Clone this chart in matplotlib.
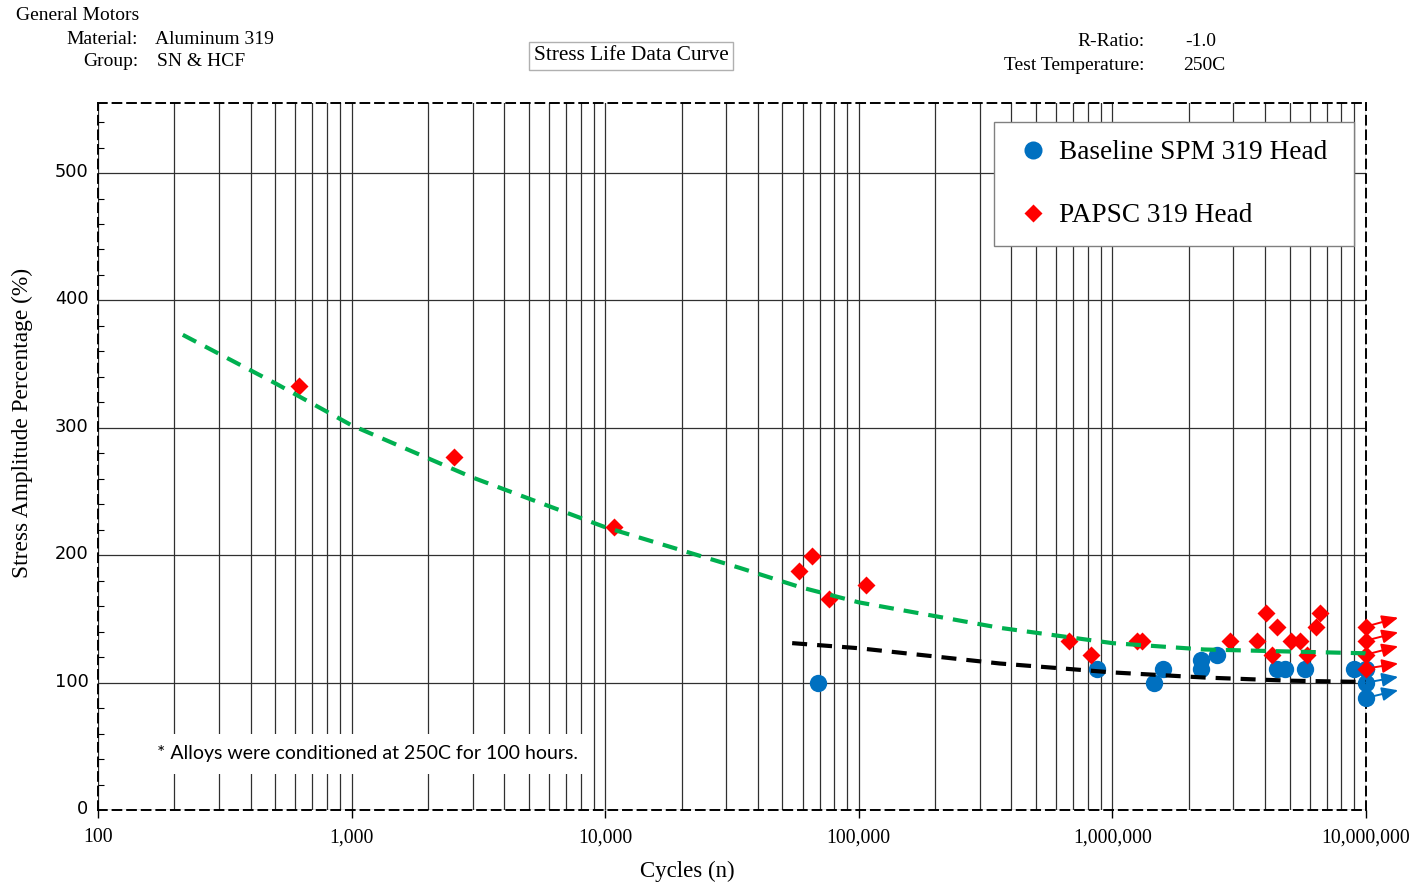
import matplotlib
matplotlib.use('Agg')
import matplotlib.pyplot as plt
import matplotlib.transforms as mtransforms
from matplotlib.ticker import FixedLocator, MultipleLocator, FuncFormatter, NullFormatter, LogLocator
from matplotlib.lines import Line2D

# ---------------- data ----------------
baseline_cycles = [69000, 869000, 1460000, 1580000, 2230000, 2230000, 2580000,
                   4460000, 4790000, 5740000, 9000000, 1e7, 1e7, 1e7]
baseline_stress = [100, 111, 100, 111, 111, 118, 122, 111, 111, 111, 111, 111, 100, 88]

papsc_cycles = [621, 2535, 10840, 58100, 65300, 76200, 106700, 674000, 825000,
                1250000, 1310000, 2910000, 3720000, 4030000, 4460000, 4260000,
                5060000, 5490000, 5850000, 6350000, 6590000, 1e7, 1e7, 1e7, 1e7]
papsc_stress = [333, 277, 222, 188, 199, 166, 177, 133, 122, 133, 133, 133, 133,
                155, 144, 122, 133, 133, 122, 144, 155, 144, 133, 122, 111]

# run-out arrows (start -> tip)
runout_start_n = 1e7
runout_tip_n = 1.34e7
papsc_runout_from = [144, 133, 122, 111]
papsc_runout_to = [151, 139.5, 128.5, 115]
baseline_runout_from = [100, 88]
baseline_runout_to = [104.5, 94]

# fitted curves
papsc_fit_n = [216, 500, 1000, 3000, 10000, 34000, 58600, 1e5, 3.6e5, 1e6, 2.3e6, 1e7]
papsc_fit_s = [373, 335, 302, 261, 222, 190, 175, 163, 143, 131, 126, 123]
base_fit_n = [54600, 1e5, 3.6e5, 1e6, 2.3e6, 5e6, 1e7]
base_fit_s = [131, 127, 115, 108, 104, 101.5, 100.5]

x_ticks = [100, 1000, 10000, 100000, 1000000, 10000000]
y_ticks = [0, 100, 200, 300, 400, 500]

BLUE = '#0070C0'
RED = '#FF0000'
GREEN = '#00B050'

SERIF = 'Liberation Serif'

fig = plt.figure(figsize=(14.11, 8.83), dpi=100)
ax = fig.add_axes([98/1411, 1-810/883, (1366-98)/1411, (810-103)/883])

ax.set_xscale('log')
ax.set_xlim(100, 1e7)
ax.set_ylim(0, 555)

# grid
ax.xaxis.set_major_locator(FixedLocator(x_ticks))
ax.xaxis.set_minor_locator(LogLocator(base=10, subs=range(2, 10), numticks=50))
ax.xaxis.set_minor_formatter(NullFormatter())
ax.xaxis.set_major_formatter(FuncFormatter(lambda v, p: f'{int(round(v)):,}'))
ax.yaxis.set_major_locator(FixedLocator(y_ticks))
ax.yaxis.set_minor_locator(MultipleLocator(20))
ax.grid(True, which='both', axis='x', color='#303030', lw=0.9)
ax.grid(True, which='major', axis='y', color='#303030', lw=0.9)
ax.set_axisbelow(True)

ax.tick_params(axis='x', which='major', direction='out', length=6, width=1, pad=7,
               labelsize=14.2, color='black')
ax.tick_params(axis='x', which='minor', length=0)
ax.tick_params(axis='y', which='major', length=0, pad=6.8, labelsize=12.8)
ax.tick_params(axis='y', which='minor', direction='in', length=4, width=0.8)
for lab in ax.get_xticklabels():
    lab.set_fontfamily(SERIF)
up = mtransforms.ScaledTranslation(0, 3/100, fig.dpi_scale_trans)
for lab in ax.get_yticklabels():
    lab.set_fontfamily('DejaVu Sans')
    lab.set_transform(lab.get_transform() + up)

for sp in ax.spines.values():
    sp.set_linestyle((0, (4.5, 3)))
    sp.set_linewidth(1.4)
    sp.set_color('black')

# scatter
ax.plot(baseline_cycles, baseline_stress, 'o', color=BLUE, ms=12.5, mec='none',
        zorder=3, clip_on=False)
ax.plot(papsc_cycles, papsc_stress, 'D', color=RED, ms=9, mec='none',
        zorder=3.1, clip_on=False)

# curves
ax.plot(papsc_fit_n, papsc_fit_s, color=GREEN, lw=3, dashes=(3.6, 2.4), zorder=4)
ax.plot(base_fit_n, base_fit_s, color='black', lw=3, dashes=(3.6, 2.4), zorder=4)

# run-out arrows
for y0, y1, col in ([(a, b, RED) for a, b in zip(papsc_runout_from, papsc_runout_to)] +
                    [(a, b, BLUE) for a, b in zip(baseline_runout_from, baseline_runout_to)]):
    ax.annotate('', xy=(runout_tip_n, y1), xytext=(runout_start_n, y0),
                arrowprops=dict(arrowstyle='-|>,head_length=0.75,head_width=0.32',
                                color=col, lw=1.4, shrinkA=0, shrinkB=0,
                                mutation_scale=13),
                annotation_clip=False, zorder=5)

# axis labels
ax.set_xlabel('Cycles (n)', fontfamily=SERIF, fontsize=16.5)
ax.xaxis.set_label_coords((687-98)/1268, -(861-810)/707)
ax.set_ylabel('Stress Amplitude Percentage (%)', fontfamily=SERIF, fontsize=16.8)
ax.yaxis.set_label_coords(-(98-33)/1268, (810-423)/707)

# legend
handles = [Line2D([], [], ls='none', marker='o', color=BLUE, ms=13, mec='none'),
           Line2D([], [], ls='none', marker='D', color=RED, ms=8.8, mec='none')]
leg = ax.legend(handles, ['Baseline SPM 319 Head', 'PAPSC 319 Head'],
                loc='upper left', bbox_to_anchor=(0.707, 0.973, 0.2835, 0.0),
                mode='expand', borderaxespad=0, prop={'family': SERIF, 'size': 19.6},
                labelspacing=1.4, handlelength=1.5, handletextpad=0.2,
                borderpad=0.66, fancybox=False, framealpha=1, edgecolor='#808080')
leg.get_frame().set_linewidth(1.0)
leg.set_zorder(6)

# footnote
ax.text(157/1411, 1-754/883, '* Alloys were conditioned at 250C for 100 hours.',
        transform=fig.transFigure, fontfamily='Lato', fontsize=14.0, va='center', ha='left',
        bbox=dict(boxstyle='square,pad=0.6', fc='white', ec='none'), zorder=6)

# header texts
def ftxt(x, y, s, ha='left', **kw):
    fig.text(x/1411, 1-y/883, s, ha=ha, va='center', fontfamily=SERIF, fontsize=14, **kw)

ftxt(16, 16, 'General Motors')
ftxt(138, 39, 'Material:', ha='right')
ftxt(155, 40, 'Aluminum 319')
ftxt(138, 62, 'Group:', ha='right')
ftxt(157, 62, 'SN & HCF')
ftxt(1145, 42, 'R-Ratio:', ha='right')
ftxt(1185, 41, '-1.0')
ftxt(1145, 65, 'Test Temperature:', ha='right')
ftxt(1183, 65, '250C')
fig.text(631/1411, 1-56/883, 'Stress Life Data Curve', ha='center', va='center',
         fontfamily=SERIF, fontsize=15.3,
         bbox=dict(boxstyle='square,pad=0.2', fc='white', ec='#b0b0b0', lw=1))

fig.savefig('out.png', dpi=100)
